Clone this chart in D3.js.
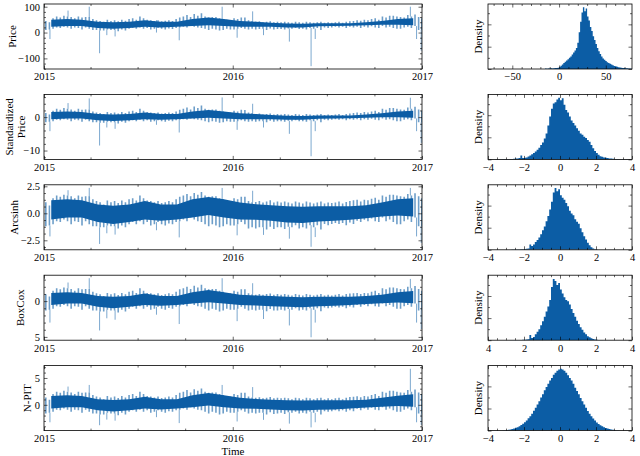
<!DOCTYPE html>
<html>
<head>
<meta charset="utf-8">
<script src="https://cdn.jsdelivr.net/npm/d3@7"></script>
<style>
  body { margin: 0; background: #fff; }
  svg { display: block; }
  text { font-family: "Liberation Serif", "Times New Roman", Times, serif; }
</style>
</head>
<body>
<svg id="chart" width="640" height="456"></svg>
<script>
// weekly band (max / min of the hourly series in each week, isolated spikes left out), 2015-01-01 .. 2016-12-31
const priceHi = [45,40,55,62,58,65,62,60,55,62, 58,60,60,52,48,45,42,50,45,48, 44,50,46,52,55,50,62,55,50,48,
  45,48,44,46,48,45,52,58,62,68, 60,72,65,75,62,58,60,60,55,52, 50,48,55,52,58,58,48,45,42,44,
  40,42,44,40,42,40,42,40,38,42, 40,38,42,40,38,40,42,38,40,38, 40,42,38,42,44,45,48,46,50,48,
  52,55,50,62,58,65,65,62,60,58, 68,62,70,60,55];
const priceLo = [10,12,15,20,18,22,20,15,20,18, 12,20,15,10,10,8,8,12,10,10, 5,12,8,15,18,15,20,15,18,12,
  15,18,15,12,16,14,18,20,22,20, 25,22,20,18,15,10,15,12,8,10, 15,12,12,15,18,15,12,15,12,14,
  15,10,16,12,14,14,12,16,15,18, 14,15,12,18,15,18,10,20,18,20, 22,20,22,18,22,20,22,18,22,20,
  24,20,18,25,20,22,18,15,15,20, 22,18,25,10,10];
// monthly dense core (mid-month), Jan 2015 .. Dec 2016
const priceCoreHi = [50,52,50,42,40,42,48,42,42,52,58,52, 45,42,38,35,34,36,36,36,40,45,52,55];
const priceCoreLo = [22,25,25,18,15,18,22,20,22,25,28,25, 22,22,22,20,20,24,25,26,28,30,30,28];

const stdHi = [1.2,0.8,1.9,2.5,2.2,2.7,2.5,2.3,1.9,2.5, 2.2,2.3,2.3,1.7,1.4,1.2,0.9,1.5,1.2,1.4, 1.1,1.5,1.2,1.7,1.9,1.5,2.5,1.9,1.5,1.4,
  1.2,1.4,1.1,1.2,1.4,1.2,1.7,2.2,2.5,2.9, 2.3,3.2,2.7,3.5,2.5,2.2,2.3,2.3,1.9,1.7, 1.5,1.4,1.9,1.7,2.2,2.15,1.4,1.2,0.9,1.1,
  0.8,0.9,1.1,0.8,0.9,0.8,0.9,0.8,0.6,0.9, 0.8,0.6,0.9,0.8,0.6,0.8,0.9,0.6,0.8,0.6, 0.8,0.9,0.6,0.9,1.1,1.2,1.4,1.2,1.5,1.4,
  1.7,1.9,1.5,2.5,2.2,2.7,2.7,2.5,2.3,2.2, 2.9,2.5,3.1,2.3,1.9];
const stdLo = [-1.5,-1.4,-1.2,-0.8,-0.9,-0.6,-0.8,-1.2,-0.8,-0.9, -1.4,-0.8,-1.2,-1.5,-1.5,-1.7,-1.7,-1.4,-1.5,-1.5,
  -1.9,-1.4,-1.7,-1.2,-0.9,-1.2,-0.8,-1.2,-0.9,-1.4, -1.2,-0.9,-1.2,-1.4,-1.1,-1.2,-0.9,-0.8,-0.6,-0.8,
  -0.4,-0.6,-0.8,-0.9,-1.2,-1.5,-1.2,-1.4,-1.7,-1.5, -1.2,-1.4,-1.4,-1.2,-0.9,-1.2,-1.4,-1.2,-1.4,-1.2,
  -1.2,-1.5,-1.1,-1.4,-1.2,-1.2,-1.4,-1.1,-1.2,-0.9, -1.2,-1.2,-1.4,-0.9,-1.2,-0.9,-1.5,-0.8,-0.9,-0.8,
  -0.6,-0.8,-0.6,-0.9,-0.6,-0.8,-0.6,-0.9,-0.6,-0.8, -0.5,-0.8,-0.9,-0.4,-0.8,-0.6,-0.9,-1.2,-1.2,-0.8,
  -0.6,-0.9,-0.4,-1.5,-1.5];
const stdCoreHi = [1.55,1.7,1.55,0.9,0.75,0.9,1.4,0.9,0.9,1.7,2.15,1.7, 1.15,0.9,0.6,0.4,0.3,0.45,0.45,0.45,0.75,1.15,1.7,1.9];
const stdCoreLo = [-0.6,-0.4,-0.4,-0.9,-1.15,-0.9,-0.6,-0.75,-0.6,-0.4,-0.15,-0.4, -0.6,-0.6,-0.6,-0.75,-0.75,-0.45,-0.4,-0.3,-0.15,0,0,-0.15];

const asinhHi = [1.02,0.73,1.40,1.65,1.53,1.72,1.65,1.57,1.40,1.65, 1.53,1.57,1.57,1.30,1.14,1.02,0.81,1.19,1.02,1.14,
  0.95,1.19,1.02,1.30,1.40,1.19,1.65,1.40,1.19,1.14, 1.02,1.14,0.95,1.02,1.14,1.02,1.30,1.53,1.65,1.78,
  1.57,1.88,1.72,1.97,1.65,1.53,1.57,1.57,1.40,1.30, 1.19,1.14,1.40,1.30,1.53,1.53,1.14,1.02,1.05,1.15,
  1.0,1.1,1.2,1.0,1.1,1.0,1.1,1.0,0.9,1.1, 1.0,0.9,1.1,1.0,0.9,1.0,1.1,0.9,1.0,0.95,
  1.0,1.1,0.9,1.05,1.15,1.2,1.25,1.1,1.25,1.2, 1.35,1.45,1.25,1.65,1.53,1.72,1.72,1.65,1.57,1.53,
  1.78,1.65,1.85,1.57,1.40];
const asinhLo = [-1.19,-1.14,-1.02,-0.73,-0.81,-0.57,-0.73,-1.02,-0.73,-0.81, -1.14,-0.73,-1.02,-1.19,-1.19,-1.30,-1.30,-1.14,-1.19,-1.19,
  -1.40,-1.14,-1.30,-1.02,-0.81,-1.02,-0.73,-1.02,-0.81,-1.14, -1.02,-0.81,-1.02,-1.14,-0.95,-1.02,-0.81,-0.73,-0.57,-0.73,
  -0.39,-0.57,-0.73,-0.81,-1.02,-1.19,-1.02,-1.14,-1.30,-1.19, -1.02,-1.14,-1.14,-1.02,-0.81,-1.02,-1.4,-1.3,-1.4,-1.3,
  -1.3,-1.5,-1.25,-1.45,-1.3,-1.3,-1.45,-1.25,-1.3,-1.1, -1.4,-1.3,-1.4,-1.1,-1.3,-1.1,-1.5,-1.0,-1.1,-1.0,
  -0.9,-1.0,-0.9,-1.1,-0.85,-1.0,-0.7,-0.81,-0.6,-0.73, -0.48,-0.73,-0.81,-0.39,-0.73,-0.57,-0.81,-1.02,-1.02,-0.73,
  -0.57,-0.81,-0.39,-1.19,-1.19];
const asinhCoreHi = [1.22,1.3,1.22,0.81,0.7,0.81,1.14,0.81,0.81,1.3,1.5,1.3, 1.0,0.85,0.75,0.65,0.6,0.65,0.65,0.65,0.75,1.0,1.3,1.4];
const asinhCoreLo = [-0.57,-0.39,-0.39,-0.81,-1.0,-0.81,-0.57,-0.7,-0.57,-0.39,-0.15,-0.39, -0.57,-0.6,-0.7,-0.85,-0.9,-0.75,-0.7,-0.6,-0.45,-0.3,-0.2,-0.3];

const boxHi = [0.95,0.65,1.45,1.8,1.65,1.9,1.8,1.7,1.45,1.8, 1.65,1.7,1.7,1.3,1.1,0.95,0.7,1.15,0.95,1.1,
  0.85,1.15,0.95,1.3,1.45,1.15,1.8,1.45,1.15,1.1, 0.95,1.1,0.85,0.95,1.1,0.95,1.3,1.65,1.8,2.0,
  1.7,2.15,1.9,2.3,1.8,1.65,1.7,1.7,1.45,1.3, 1.15,1.1,1.45,1.3,1.65,1.65,1.1,0.95,0.9,1.0,
  0.9,1.0,1.05,0.9,1.0,0.9,1.0,0.9,0.8,1.0, 0.9,0.8,1.0,0.9,0.8,0.9,1.0,0.8,0.9,0.8,
  0.9,1.0,0.8,1.0,1.05,1.1,1.15,1.0,1.15,1.1, 1.3,1.45,1.15,1.8,1.65,1.9,1.9,1.8,1.7,1.65,
  2.0,1.8,2.1,1.7,1.45];
const boxLo = [-1.3,-1.2,-1.05,-0.7,-0.8,-0.55,-0.7,-1.05,-0.7,-0.8, -1.2,-0.7,-1.05,-1.3,-1.3,-1.45,-1.45,-1.2,-1.3,-1.3,
  -1.6,-1.2,-1.45,-1.05,-0.8,-1.05,-0.7,-1.05,-0.8,-1.2, -1.05,-0.8,-1.05,-1.2,-0.95,-1.05,-0.8,-0.7,-0.55,-0.7,
  -0.35,-0.55,-0.7,-0.8,-1.05,-1.3,-1.05,-1.2,-1.45,-1.3, -1.05,-1.2,-1.2,-1.05,-0.8,-1.05,-1.3,-1.2,-1.3,-1.2,
  -1.2,-1.4,-1.1,-1.3,-1.3,-1.2,-1.3,-1.1,-1.2,-1.0, -1.3,-1.2,-1.3,-1.0,-1.2,-1.0,-1.4,-0.9,-1.0,-0.9,
  -0.8,-0.9,-0.8,-1.0,-0.75,-0.9,-0.55,-0.8,-0.55,-0.7, -0.45,-0.7,-0.8,-0.35,-0.7,-0.55,-0.8,-1.05,-1.05,-0.7,
  -0.55,-0.8,-0.35,-1.3,-1.3];
const boxCoreHi = [1.15,1.25,1.15,0.7,0.6,0.7,1.05,0.7,0.7,1.25,1.55,1.25, 0.9,0.8,0.7,0.6,0.55,0.6,0.6,0.6,0.7,0.9,1.25,1.4];
const boxCoreLo = [-0.55,-0.35,-0.35,-0.8,-1.0,-0.8,-0.55,-0.65,-0.55,-0.35,-0.15,-0.35, -0.55,-0.6,-0.7,-0.8,-0.85,-0.7,-0.65,-0.55,-0.4,-0.3,-0.2,-0.3];

const npitHi = [1.35,0.95,2.0,2.45,2.25,2.6,2.45,2.3,2.0,2.45, 2.25,2.3,2.3,1.85,1.55,1.35,1.05,1.65,1.35,1.55,
  1.25,1.65,1.35,1.85,2.0,1.65,2.45,2.0,1.65,1.55, 1.35,1.55,1.25,1.35,1.55,1.35,1.85,2.25,2.45,2.75,
  2.3,2.9,2.6,3.05,2.45,2.25,2.3,2.3,2.0,1.85, 1.65,1.55,2.0,1.85,2.25,2.25,1.55,1.35,1.3,1.4,
  1.2,1.3,1.45,1.2,1.3,1.2,1.3,1.2,1.05,1.3, 1.2,1.05,1.3,1.2,1.05,1.2,1.3,1.05,1.2,1.05,
  1.2,1.3,1.05,1.3,1.45,1.5,1.6,1.4,1.65,1.55, 1.85,2.0,1.65,2.45,2.25,2.6,2.6,2.45,2.3,2.25,
  2.75,2.45,2.85,2.3,2.0];
const npitLo = [-1.6,-1.5,-1.3,-0.9,-1.0,-0.7,-0.9,-1.3,-0.9,-1.0, -1.5,-0.9,-1.3,-1.6,-1.6,-1.8,-1.8,-1.5,-1.6,-1.6,
  -1.95,-1.5,-1.8,-1.3,-1.0,-1.3,-0.9,-1.3,-1.0,-1.5, -1.3,-1.0,-1.3,-1.5,-1.2,-1.3,-1.0,-0.9,-0.7,-0.9,
  -0.45,-0.7,-0.9,-1.0,-1.3,-1.6,-1.3,-1.5,-1.8,-1.6, -1.3,-1.5,-1.5,-1.3,-1.0,-1.3,-1.6,-1.5,-1.6,-1.5,
  -1.5,-1.8,-1.4,-1.7,-1.6,-1.5,-1.7,-1.4,-1.5,-1.3, -1.6,-1.5,-1.6,-1.3,-1.5,-1.3,-1.8,-1.2,-1.3,-1.2,
  -1.0,-1.2,-1.0,-1.3,-1.0,-1.2,-0.75,-1.0,-0.7,-0.9, -0.55,-0.9,-1.0,-0.45,-0.9,-0.7,-1.0,-1.3,-1.3,-0.9,
  -0.7,-1.0,-0.45,-1.6,-1.6];
const npitCoreHi = [1.65,1.8,1.65,1.05,0.9,1.05,1.5,1.05,1.05,1.8,2.2,1.8, 1.3,1.1,0.95,0.85,0.8,0.85,0.85,0.85,0.95,1.3,1.7,1.95];
const npitCoreLo = [-0.7,-0.45,-0.45,-1.0,-1.25,-1.0,-0.7,-0.85,-0.7,-0.45,-0.15,-0.45, -0.7,-0.75,-0.85,-1.0,-1.05,-0.9,-0.85,-0.7,-0.5,-0.35,-0.2,-0.35];

// isolated hourly spikes: day since 2015-01-01 and value in each panel
const spikeDays = [11, 46, 87, 107, 121, 137, 217, 261, 344, 373, 403, 424, 474, 516, 524, 708, 720, 729];
const priceSpikes = [-25, 85, 100, -80, -10, -15, 0, -30, 100, -20, 82, -10, -35, -130, -25, 100, -25, -70];
const stdSpikes = [-4.2, 4.2, 5.6, -8.5, -3.1, -3.5, -2.3, -4.6, 5.9, -3.8, 4.0, -3.1, -5.0, -11.7, -4.2, 5.8, -4.2, -7.7];
const asinhSpikes = [-2.14, 2.14, 2.35, -2.84, -1.85, -1.97, -1.57, -2.23, 2.35, -2.04, 2.09, -2.0, -2.35, -3.1, -2.2, 2.35, -2.14, -2.74];
const boxSpikes = [-3.0, 2.6, 3.2, -4.1, -2.4, -2.6, -1.9, -3.2, 3.2, -2.8, 2.5, -2.5, -3.4, -5.05, -3.0, 3.1, -3.0, -3.9];
const npitSpikes = [-3.25, 3.4, 3.7, -3.8, -2.75, -2.95, -2.3, -3.4, 3.7, -3.1, 3.3, -2.8, -3.5, -4.2, -3.25, 6.7, -3.25, -3.75];

// histogram heights (bins of 1.5 from -15 for price, bins of 0.1 from -4 for the rest)
const priceHist = [0.3,0.2,0.4,0.3,0.5,0.4,0.6,0.8,0.7,1.0, 1.5,2.5,3.5,4.5,5.5,6.5,7.5,8.5,9.5,11,
  12.5,14,16,20,28,36,43,47,44,46, 40,37,32,29,25,22,19,16,13.5,11.5, 9.5,8,7,6,5.2,4.5,4,3.4,2.8,2.3,
  2,1.7,1.4,1.2,1.0,0.8,0.7,0.6,0.5,0.4, 0.3,0.25];
const stdHist = [0,0,0,0,0.3,0.3,0.4,0.3,0.5,0.5, 0.6,0.7,0.8,0.8,1.0,1.2,1.5,2.0,6.0,2.0,
  2.5,3,4.5,6,8,10,12,15,18,22, 26,32,40,52,66,78,86,88,92,95,
  91,94,84,76,72,66,60,56,52,48, 44,40,38,35,33,30,27,22,17,13,
  10,7,5,4,3,2.5,2,1.5,1.2,1.0, 0.8,0.6,0.5,0.4,0.3,0.3,0.2,0.2,0,0];
const asinhHist = [0,0,0,0,0,0,0,0,0,0, 0.2,0.2,0.2,0.3,0.3,0.3,0.4,0.5,0.7,1.0,
  1.2,1.5,2,8,6,8,12,15,19,24, 30,36,44,52,62,74,88,95,90,93,
  84,80,77,72,67,60,56,53,47,43, 40,33,27,21,16,11,7,4,2,0.8,
  0.4,0.2,0.1,0,0,0,0,0,0,0, 0,0,0,0,0,0,0,0,0,0];
const boxHist = [0,0,0,0,0,0,0,0,0,0, 0.1,0.1,0.2,0.2,0.2,0.3,0.3,0.4,0.5,0.6,
  0.8,1,1.5,8,3.5,5,9,13,17,23, 29,36,44,52,62,82,94,91,85,88,
  78,72,66,62,60,55,48,42,36,30, 25,20,16,12,9,6,4.5,3,2,1.2,
  0.8,0.5,0.3,0.2,0.1,0,0,0,0,0, 0,0,0,0,0,0,0,0,0,0];
const npitHist = [0,0,0,0,0,0,0,0, 0.5,0.7,1.0,1.3,1.8,2.3,3.2,4.2,5.3,6.8,8.5,10.5,
  13,15.5,19,22,26,30.5,35,40,45,51, 56,62,67,72,77,81,86,89,92,94,
  95,94,92,89,85,81,77,72,66,61, 56,50,45,40,35,30,26,22,18.5,15.5,
  12.5,10.2,8.2,6.6,5.2,4,3.1,2.4,1.8,1.3, 0.9,0.6,0.4, 0,0,0,0,0,0,0];

const yearTicks = [new Date(2015, 0, 1), new Date(2016, 0, 1), new Date(2017, 0, 1)];

const blue = "#0C5DA5";
const minus = v => (v < 0 ? "\u2212" : "") + Math.abs(v);

const tsLeft = 44, tsRight = 422, hsLeft = 488, hsRight = 632;
const panelH = 65;
const panelY = i => 4 + i * 90.4;

const svg = d3.select("#chart");
const start = new Date(2015, 0, 1);
const x = d3.scaleTime().domain([start, new Date(2017, 0, 1)]).range([tsLeft, tsRight]);
const quarterTicks = d3.timeMonth.every(3).range(start, new Date(2017, 0, 2)).filter(d => d.getMonth() !== 0);
const day = d => d3.timeHour.offset(start, Math.round(d * 24));
const midMonth = k => new Date(2015, k, 15);

const panels = [
  {label: ["Price"], lx: 12, hi: priceHi, lo: priceLo, coreHi: priceCoreHi, coreLo: priceCoreLo, spikes: priceSpikes,
   dom: [-141, 110.5], major: [-100, 0, 100], minor: 20, fmt: minus},
  {label: ["Standardized", "Price"], lx: 9, hi: stdHi, lo: stdLo, coreHi: stdCoreHi, coreLo: stdCoreLo, spikes: stdSpikes,
   dom: [-12.65, 6.8], major: [-10, 0], minor: 2, fmt: minus},
  {label: ["Arcsinh"], lx: 14, hi: asinhHi, lo: asinhLo, coreHi: asinhCoreHi, coreLo: asinhCoreLo, spikes: asinhSpikes,
   dom: [-3.38, 2.64], major: [-2.5, 0, 2.5], minor: 0.625, fmt: v => v === 0 ? "0.0" : minus(v)},
  {label: ["BoxCox"], lx: 20, hi: boxHi, lo: boxLo, coreHi: boxCoreHi, coreLo: boxCoreLo, spikes: boxSpikes,
   dom: [-5.46, 3.62], major: [-5, 0], minor: 1, fmt: v => Math.abs(v)},
  {label: ["N-PIT"], lx: 27, hi: npitHi, lo: npitLo, coreHi: npitCoreHi, coreLo: npitCoreLo, spikes: npitSpikes,
   dom: [-4.8, 7.3], major: [0, 5], minor: 1, fmt: minus}
];

const hists = [
  {vals: priceHist, start: -15, width: 1.5, xdom: [-76, 78], major: [-50, 0, 50], minor: 10, fmt: minus, ymax: 49.5, ystep: 8.5},
  {vals: stdHist, start: -4, width: 0.1, xdom: [-4, 4], major: [-4, -2, 0, 2, 4], minor: 0.5, fmt: minus, ymax: 100, ystep: 17},
  {vals: asinhHist, start: -4, width: 0.1, xdom: [-4, 4], major: [-4, -2, 0, 2, 4], minor: 0.5, fmt: minus, ymax: 100, ystep: 17},
  {vals: boxHist, start: -4, width: 0.1, xdom: [-4, 4], major: [-4, -2, 0, 2, 4], minor: 0.5, fmt: v => Math.abs(v), ymax: 100, ystep: 17},
  {vals: npitHist, start: -4, width: 0.1, xdom: [-4, 4], major: [-4, -2, 0, 2, 4], minor: 0.5, fmt: minus, ymax: 100, ystep: 17}
];

// inward ticks, no domain line (the frame is drawn separately)
function axis(g, gen, vals, size, fmt, tr) {
  const a = g.append("g")
      .attr("transform", tr || null)
      .call(gen.tickValues(vals).tickSizeInner(-size).tickSizeOuter(0)
        .tickPadding(fmt ? 4 : 0).tickFormat(fmt || (() => "")));
  a.attr("font-size", 10.5);
  a.select(".domain").remove();
  a.selectAll(".tick line").attr("stroke", "#000").attr("stroke-width", 0.6);
  a.selectAll(".tick text").attr("fill", "#000");
  return a;
}

function minorVals(dom, step, major) {
  const lo = Math.ceil(dom[0] / step - 1e-9), hi = Math.floor(dom[1] / step + 1e-9);
  return d3.range(lo, hi + 1).map(k => +(k * step).toFixed(6))
    .filter(v => !major.some(m => Math.abs(m - v) < 1e-6));
}

function frame(g, x0, x1) {
  g.append("rect").attr("x", x0).attr("y", 0).attr("width", x1 - x0).attr("height", panelH)
    .attr("fill", "none").attr("stroke", "#000").attr("stroke-width", 0.8);
}

panels.forEach((p, i) => {
  const g = svg.append("g").attr("transform", `translate(0,${panelY(i)})`);
  const y = d3.scaleLinear().domain(p.dom).range([panelH, 0]);

  g.append("clipPath").attr("id", `clip-ts${i}`)
    .append("rect").attr("x", tsLeft).attr("y", 0).attr("width", tsRight - tsLeft).attr("height", panelH);
  const plot = g.append("g").attr("clip-path", `url(#clip-ts${i})`);

  // weekly band as vertical strokes
  const band = d3.path();
  p.hi.forEach((v, k) => {
    const px = x(day(Math.min(k * 7 + 3.5, 730.5)));
    band.moveTo(px, y(p.lo[k]));
    band.lineTo(px, y(v));
  });
  plot.append("path")
      .attr("d", band.toString())
      .attr("fill", "none")
      .attr("stroke", blue)
      .attr("stroke-width", 1.6)
      .attr("stroke-opacity", 0.6);

  // isolated spikes, drawn from the edge of their week's band
  const sp = d3.path();
  spikeDays.forEach((d, k) => {
    const w = Math.min(Math.floor(d / 7), p.hi.length - 1);
    const v = p.spikes[k];
    const px = x(day(d + 0.5));
    sp.moveTo(px, y(v < 0 ? p.lo[w] : p.hi[w]));
    sp.lineTo(px, y(v));
  });
  plot.append("path")
      .attr("d", sp.toString())
      .attr("fill", "none")
      .attr("stroke", blue)
      .attr("stroke-width", 0.9)
      .attr("stroke-opacity", 0.6);

  // dense core of the series
  plot.append("path")
      .datum(p.coreHi.map((v, k) => [midMonth(k), p.coreLo[k], v]))
      .attr("d", d3.area().x(d => x(d[0])).y0(d => y(d[1])).y1(d => y(d[2])))
      .attr("fill", blue);

  frame(g, tsLeft, tsRight);

  const majors = p.major.filter(v => v >= p.dom[0] && v <= p.dom[1]);
  const minors = minorVals(p.dom, p.minor, p.major);
  axis(g, d3.axisBottom(x), yearTicks, 3.5, d3.timeFormat("%Y"), `translate(0,${panelH})`);
  axis(g, d3.axisBottom(x), quarterTicks, 2, null, `translate(0,${panelH})`);
  axis(g, d3.axisTop(x), yearTicks, 3.5, null);
  axis(g, d3.axisTop(x), quarterTicks, 2, null);
  axis(g, d3.axisLeft(y), majors, 3.5, p.fmt, `translate(${tsLeft},0)`);
  axis(g, d3.axisLeft(y), minors, 2, null, `translate(${tsLeft},0)`);
  axis(g, d3.axisRight(y), majors, 3.5, null, `translate(${tsRight},0)`);
  axis(g, d3.axisRight(y), minors, 2, null, `translate(${tsRight},0)`);

  const lab = g.append("g").attr("transform", `translate(${p.lx},${panelH / 2}) rotate(-90)`);
  p.label.forEach((t, k) => {
    lab.append("text").attr("y", k * 12).attr("text-anchor", "middle")
      .attr("dominant-baseline", "central").attr("font-size", 11).text(t);
  });

  // histogram as one stepped area
  const h = hists[i];
  const hx = d3.scaleLinear().domain(h.xdom).range([hsLeft, hsRight]);
  const hy = d3.scaleLinear().domain([0, h.ymax]).range([panelH, 0]);
  const bins = h.vals.map((v, k) => [h.start + k * h.width, v]);
  bins.push([h.start + h.vals.length * h.width, h.vals[h.vals.length - 1]]);
  g.append("clipPath").attr("id", `clip-h${i}`)
    .append("rect").attr("x", hsLeft).attr("y", 0).attr("width", hsRight - hsLeft).attr("height", panelH);
  g.append("path")
      .attr("clip-path", `url(#clip-h${i})`)
      .datum(bins)
      .attr("d", d3.area().curve(d3.curveStepAfter).x(d => hx(d[0])).y0(hy(0)).y1(d => hy(d[1])))
      .attr("fill", blue);

  frame(g, hsLeft, hsRight);
  const hMin = minorVals(h.xdom, h.minor, h.major);
  const yMaj = d3.range(0, h.ymax, h.ystep * 2);
  const yMin = d3.range(h.ystep, h.ymax, h.ystep * 2);
  axis(g, d3.axisBottom(hx), h.major, 3.5, h.fmt, `translate(0,${panelH})`);
  axis(g, d3.axisBottom(hx), hMin, 2, null, `translate(0,${panelH})`);
  axis(g, d3.axisTop(hx), h.major, 3.5, null);
  axis(g, d3.axisTop(hx), hMin, 2, null);
  axis(g, d3.axisLeft(hy), yMaj, 3.5, null, `translate(${hsLeft},0)`);
  axis(g, d3.axisLeft(hy), yMin, 2, null, `translate(${hsLeft},0)`);
  axis(g, d3.axisRight(hy), yMaj, 3.5, null, `translate(${hsRight},0)`);
  axis(g, d3.axisRight(hy), yMin, 2, null, `translate(${hsRight},0)`);

  g.append("text").attr("transform", `translate(478,${panelH / 2}) rotate(-90)`)
    .attr("text-anchor", "middle").attr("dominant-baseline", "central")
    .attr("font-size", 11).text("Density");
});

svg.append("text").attr("x", (tsLeft + tsRight) / 2).attr("y", 455)
  .attr("text-anchor", "middle").attr("font-size", 11).text("Time");
</script>
</body>
</html>
